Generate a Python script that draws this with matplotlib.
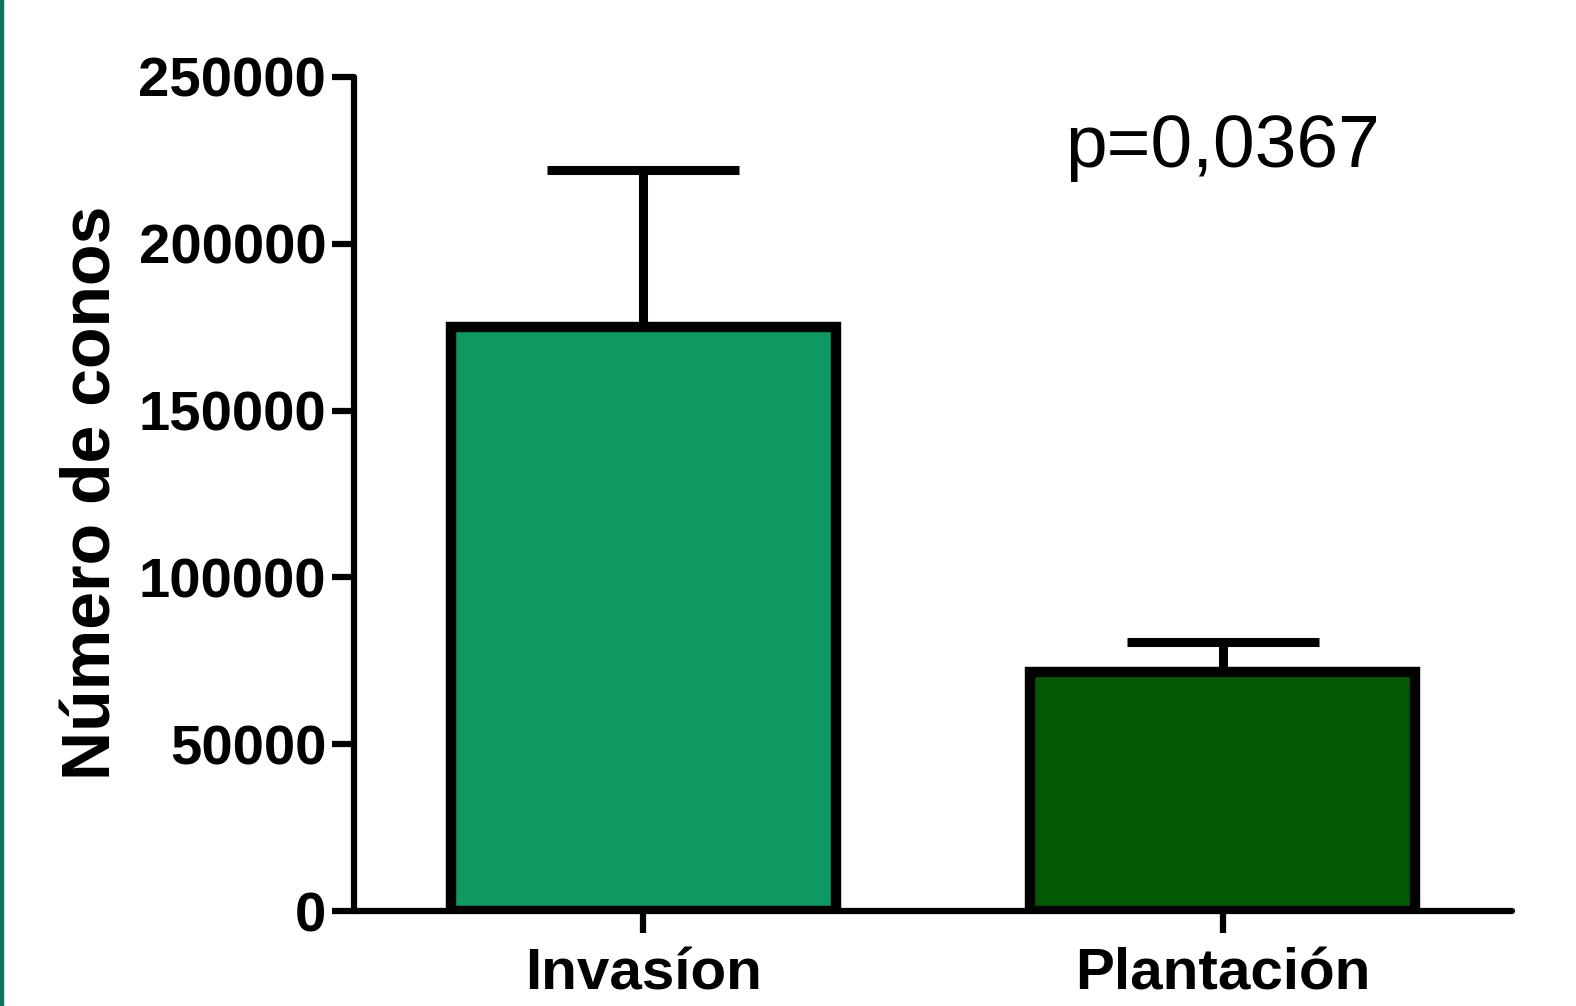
import matplotlib
matplotlib.use("Agg")
import matplotlib.pyplot as plt
from matplotlib.patches import Rectangle

# Datos
grupos = ["Invasíon", "Plantación"]
medias = [175000, 71500]
sem = [47000, 9000]
colores = ["#0e9963", "#035a03"]
yticks = [0, 50000, 100000, 150000, 200000, 250000]
p_texto = "p=0,0367"

plt.rcParams["font.family"] = ["Liberation Sans", "DejaVu Sans"]

fig = plt.figure(figsize=(15.76, 10.06), dpi=100)
ax = fig.add_axes([0.2246, 0.0944, 0.9594 - 0.2246, 0.9235 - 0.0944])

x = list(range(len(grupos)))
eb = ax.errorbar(x, medias, yerr=[[0] * len(sem), sem], fmt="none", ecolor="black",
                 elinewidth=6.5, capsize=69, capthick=6.5, zorder=1)
for c in eb[1]:
    c.set_solid_capstyle("round")
ax.bar(x, medias, width=0.665, color=colores, edgecolor="black",
       linewidth=7.5, zorder=2)

ax.set_xlim(-0.5, 1.5)
ax.set_ylim(0, 250000)
ax.set_xticks(x)
ax.set_xticklabels(grupos, fontsize=42, fontweight="bold")
ax.set_yticks(yticks)
ax.set_yticklabels([str(v) for v in yticks], fontsize=40.5, fontweight="bold")
ax.tick_params(axis="both", length=16, width=4.5, color="black")
ax.tick_params(axis="y", pad=4)
ax.tick_params(axis="x", pad=10)

for s in ["top", "right"]:
    ax.spines[s].set_visible(False)
for s in ["left", "bottom"]:
    ax.spines[s].set_linewidth(4.5)
    ax.spines[s].set_capstyle("round")

ax.set_ylabel("Número de conos", fontsize=49, fontweight="bold", va="center")
ax.yaxis.set_label_coords(-0.226, 0.502)

ax.text(1, 229000, p_texto, fontsize=54, ha="center", va="center")

# borde verde a la izquierda
fig.add_artist(Rectangle((0, 0), 3 / 1576, 1, transform=fig.transFigure,
                         color="#11705f", zorder=10))

fig.savefig("out.png", dpi=100)
